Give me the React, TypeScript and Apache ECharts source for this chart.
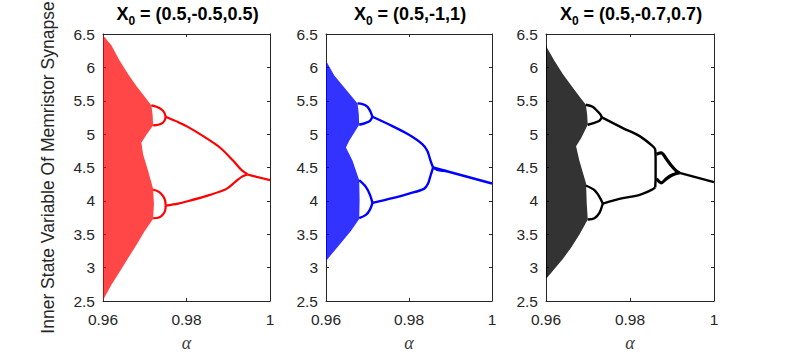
import React, { useEffect, useRef } from "react";
import * as echarts from "echarts";

type Pt = [number, number];

// ---------- Panel 1 (red), X0 = (0.5,-0.5,0.5) ----------
const cloudRed: Pt[] = [
  [0.96, 6.48], [0.962, 6.33], [0.964, 6.1], [0.966, 5.9], [0.968, 5.72], [0.97, 5.56], [0.9716, 5.43],
  [0.9719, 5.28], [0.972, 5.13], [0.9704, 4.99], [0.9692, 4.87], [0.9696, 4.7], [0.9708, 4.45], [0.972, 4.18],
  [0.9722, 3.96], [0.972, 3.73], [0.97, 3.55], [0.968, 3.34], [0.966, 3.14], [0.964, 2.94], [0.962, 2.74],
  [0.9604, 2.56], [0.96, 2.5],
];
const redUpperBubbleTop: Pt[] = [[0.9716, 5.43], [0.9728, 5.41], [0.974, 5.37], [0.9747, 5.32], [0.975, 5.26]];
const redUpperBubbleBot: Pt[] = [[0.972, 5.13], [0.9732, 5.14], [0.9743, 5.17], [0.9748, 5.21], [0.975, 5.26]];
const redLowerBubbleTop: Pt[] = [[0.972, 4.17], [0.9735, 4.13], [0.9745, 4.06], [0.9749, 4.0], [0.975, 3.93]];
const redLowerBubbleBot: Pt[] = [[0.972, 3.74], [0.9734, 3.75], [0.9744, 3.8], [0.9749, 3.86], [0.975, 3.93]];
const redUpperBranch: Pt[] = [[0.975, 5.26], [0.978, 5.18], [0.98, 5.12], [0.984, 4.97], [0.988, 4.8], [0.9912, 4.6], [0.9932, 4.46], [0.9946, 4.4]];
const redLowerBranch: Pt[] = [[0.975, 3.93], [0.978, 3.96], [0.98, 3.99], [0.9856, 4.09], [0.9896, 4.18], [0.9916, 4.28], [0.9932, 4.36], [0.9946, 4.395]];
const redTail: Pt[] = [[0.9946, 4.395], [0.9968, 4.36], [1.0, 4.31]];

// ---------- Panel 2 (blue), X0 = (0.5,-1,1) ----------
const cloudBlue: Pt[] = [
  [0.96, 6.1], [0.962, 5.88], [0.964, 5.73], [0.966, 5.58], [0.9676, 5.46], [0.9679, 5.3], [0.968, 5.14],
  [0.9656, 4.9], [0.9648, 4.8], [0.9664, 4.6], [0.968, 4.31], [0.9681, 4.01], [0.968, 3.73], [0.966, 3.55],
  [0.964, 3.4], [0.962, 3.25], [0.96, 3.1],
];
const blueUpperBubbleTop: Pt[] = [[0.9676, 5.46], [0.9688, 5.45], [0.97, 5.41], [0.9707, 5.34], [0.9712, 5.26]];
const blueUpperBubbleBot: Pt[] = [[0.968, 5.14], [0.9696, 5.17], [0.9706, 5.2], [0.9712, 5.26]];
const blueLowerBubbleTop: Pt[] = [[0.968, 4.31], [0.9696, 4.21], [0.9706, 4.09], [0.9712, 3.97]];
const blueLowerBubbleBot: Pt[] = [[0.968, 3.74], [0.9696, 3.79], [0.9706, 3.87], [0.9712, 3.97]];
const blueUpperBranch: Pt[] = [[0.9712, 5.26], [0.976, 5.12], [0.98, 4.99], [0.9832, 4.85], [0.9844, 4.75], [0.9852, 4.6], [0.9858, 4.5]];
const blueLowerBranch: Pt[] = [[0.9712, 3.97], [0.976, 4.04], [0.98, 4.11], [0.9836, 4.18], [0.9846, 4.26], [0.9852, 4.38], [0.9858, 4.5]];
const blueTail: Pt[] = [[0.9858, 4.5], [1.0, 4.26]];
const blueTailSplit: Pt[] = [[0.9858, 4.5], [0.9868, 4.465], [0.988, 4.45], [0.989, 4.448]];

// ---------- Panel 3 (black), X0 = (0.5,-0.7,0.7) ----------
const cloudBlack: Pt[] = [
  [0.96, 6.32], [0.962, 6.1], [0.964, 5.9], [0.966, 5.73], [0.968, 5.56], [0.9695, 5.44], [0.9698, 5.29],
  [0.96994, 5.14], [0.96835, 4.94], [0.96716, 4.82], [0.96795, 4.6], [0.96954, 4.26], [0.9697, 3.96],
  [0.96994, 3.72], [0.968, 3.5], [0.966, 3.3], [0.964, 3.13], [0.962, 2.98], [0.96, 2.83],
];
const blackUpperBubbleTop: Pt[] = [[0.9695, 5.44], [0.9711, 5.41], [0.9723, 5.34], [0.973, 5.29], [0.9733, 5.25]];
const blackUpperBubbleBot: Pt[] = [[0.96994, 5.14], [0.97153, 5.17], [0.97272, 5.2], [0.9733, 5.25]];
const blackLowerBubbleTop: Pt[] = [[0.9695, 4.23], [0.97153, 4.16], [0.97272, 4.06], [0.97352, 3.96]];
const blackLowerBubbleBot: Pt[] = [[0.96994, 3.72], [0.97153, 3.74], [0.97272, 3.82], [0.97352, 3.96]];
const blackUpperBranch: Pt[] = [[0.9733, 5.25], [0.9783, 5.09], [0.9823, 4.97], [0.9854, 4.82], [0.986, 4.77], [0.9861, 4.6], [0.9861, 4.35], [0.986, 4.2]];
const blackLowerBranch: Pt[] = [[0.97352, 3.96], [0.9783, 4.04], [0.9823, 4.09], [0.985, 4.16], [0.986, 4.2]];
const blackLobeTop: Pt[] = [[0.9863, 4.7], [0.98744, 4.72], [0.98863, 4.63], [0.98982, 4.53], [0.99101, 4.45], [0.99181, 4.42]];
const blackLobeBot: Pt[] = [[0.9863, 4.33], [0.98744, 4.27], [0.98863, 4.33], [0.98982, 4.38], [0.99101, 4.41], [0.99181, 4.42]];
const blackTail: Pt[] = [[0.99181, 4.42], [1.0, 4.28]];

// ---------- Texts / axes ----------
const TITLE_PREFIX = "X";
const TITLE_SUB = "0";
const TITLE_VALUES = ["(0.5,-0.5,0.5)", "(0.5,-1,1)", "(0.5,-0.7,0.7)"];
const Y_NAME = "Inner State Variable Of Memristor Synapse";
const X_NAME = "α";
const X_MIN = 0.96, X_MAX = 1, X_STEP = 0.02;
const Y_MIN = 2.5, Y_MAX = 6.5, Y_STEP = 0.5;

const PANELS = [
  {
    color: "#ff0000", cloudFill: "rgba(255,0,0,0.72)", width: 2.2, cloud: cloudRed,
    lines: [redUpperBubbleTop, redUpperBubbleBot, redLowerBubbleTop, redLowerBubbleBot, redUpperBranch, redLowerBranch, redTail],
    thick: [] as Pt[][],
  },
  {
    color: "#0000ff", cloudFill: "rgba(0,0,255,0.8)", width: 2.4, cloud: cloudBlue,
    lines: [blueUpperBubbleTop, blueUpperBubbleBot, blueLowerBubbleTop, blueLowerBubbleBot, blueUpperBranch, blueLowerBranch, blueTail, blueTailSplit],
    thick: [] as Pt[][],
  },
  {
    color: "#000000", cloudFill: "rgba(0,0,0,0.8)", width: 2.4, cloud: cloudBlack,
    lines: [blackUpperBubbleTop, blackUpperBubbleBot, blackLowerBubbleTop, blackLowerBubbleBot, blackUpperBranch, blackLowerBranch, blackTail],
    thick: [blackLobeTop, blackLobeBot],
  },
];

const GRIDS = [
  { left: 103, width: 167 },
  { left: 326, width: 166 },
  { left: 546, width: 168 },
];
const GRID_TOP = 34;
const GRID_HEIGHT = 272;

const AXIS_COLOR = "#262626";
const FONT = "'Liberation Sans', Arial, Helvetica, sans-serif";

export default function App() {
  const ref = useRef<HTMLDivElement>(null);
  useEffect(() => {
    document.body.style.margin = "0";
    if (!ref.current) return;
    const chart = echarts.init(ref.current, undefined, { renderer: "svg" });

    const grid = GRIDS.map((g) => ({ left: g.left, width: g.width, top: GRID_TOP, height: GRID_HEIGHT, containLabel: false }));

    const baseAxis = {
      type: "value" as const,
      axisLine: { show: true, onZero: false, lineStyle: { color: AXIS_COLOR, width: 1 } },
      axisTick: { show: true, inside: true, length: 3, lineStyle: { color: AXIS_COLOR } },
      splitLine: { show: false },
    };

    const xAxis: any[] = [];
    const yAxis: any[] = [];
    GRIDS.forEach((_, i) => {
      xAxis.push({
        ...baseAxis, gridIndex: i, min: X_MIN, max: X_MAX, interval: X_STEP, position: "bottom",
        axisLabel: { color: AXIS_COLOR, fontSize: 15.5, fontFamily: FONT, margin: 10 },
        name: X_NAME, nameLocation: "middle", nameGap: 33,
        nameTextStyle: { fontFamily: "'Liberation Serif', 'DejaVu Serif', serif", fontStyle: "italic", fontSize: 18, color: "#404040" },
      });
    });
    GRIDS.forEach((_, i) => {
      xAxis.push({
        ...baseAxis, gridIndex: i, min: X_MIN, max: X_MAX, interval: X_STEP, position: "top",
        axisLabel: { show: false },
      });
    });
    GRIDS.forEach((_, i) => {
      yAxis.push({
        ...baseAxis, gridIndex: i, min: Y_MIN, max: Y_MAX, interval: Y_STEP, position: "left",
        axisLabel: { color: AXIS_COLOR, fontSize: 15.5, fontFamily: FONT, margin: 8 },
        ...(i === 0
          ? {
              name: Y_NAME, nameLocation: "middle", nameGap: 46,
              nameTextStyle: { fontFamily: FONT, fontSize: 17.5, color: AXIS_COLOR },
            }
          : {}),
      });
    });
    GRIDS.forEach((_, i) => {
      yAxis.push({
        ...baseAxis, gridIndex: i, min: Y_MIN, max: Y_MAX, interval: Y_STEP, position: "right",
        axisLabel: { show: false },
      });
    });

    const series: any[] = [];
    PANELS.forEach((p, i) => {
      series.push({
        type: "custom",
        xAxisIndex: i,
        yAxisIndex: i,
        data: p.cloud,
        encode: { x: 0, y: 1 },
        clip: true,
        silent: true,
        renderItem: (params: any, api: any) => {
          if (params.dataIndex !== 0) return null;
          const pts = p.cloud.map((q) => api.coord(q));
          return { type: "polygon", shape: { points: pts }, style: { fill: p.cloudFill } };
        },
      });
      p.lines.forEach((ln) => {
        series.push({
          type: "line", xAxisIndex: i, yAxisIndex: i, data: ln, showSymbol: false, symbol: "none",
          smooth: 0.3, clip: true, silent: true,
          lineStyle: { color: p.color, width: p.width },
        });
      });
      p.thick.forEach((ln) => {
        series.push({
          type: "line", xAxisIndex: i, yAxisIndex: i, data: ln, showSymbol: false, symbol: "none",
          smooth: 0.3, clip: true, silent: true,
          lineStyle: { color: p.color, width: 3.2 },
        });
      });
    });

    const centers = GRIDS.map((g) => g.left + g.width / 2);
    const graphic = TITLE_VALUES.map((t, i) => ({
      type: "text",
      x: centers[i] + 1,
      y: 1,
      style: {
        text: `{a|${TITLE_PREFIX}}{b|${TITLE_SUB}}{a| = ${t}}`,
        align: "center",
        verticalAlign: "top",
        rich: {
          a: { fontSize: 18, fontWeight: "bold", fontFamily: FONT, fill: "#000", lineHeight: 26 },
          b: { fontSize: 12, fontWeight: "bold", fontFamily: FONT, fill: "#000", lineHeight: 12, padding: [14, 0, 0, 0] },
        },
      },
    }));

    chart.setOption({
      animation: false,
      backgroundColor: "#ffffff",
      grid,
      xAxis,
      yAxis,
      series,
      graphic,
    });
    return () => chart.dispose();
  }, []);
  return <div ref={ref} style={{ width: 790, height: 357 }} />;
}
